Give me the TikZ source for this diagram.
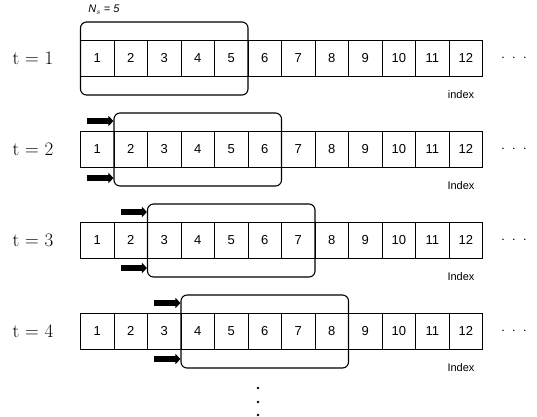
\documentclass[tikz,border=0pt]{standalone}
\usepackage{fontspec}
\setsansfont{Liberation Sans}
\usetikzlibrary{arrows.meta}

\tikzset{
  cellbox/.style={draw, line width=0.8pt, minimum width=33.5pt, minimum height=36pt,
    inner sep=0pt, font=\sffamily\fontsize{13}{13}\selectfont},
  winbox/.style={draw, line width=1.1pt, rounded corners=6pt, minimum width=167.5pt,
    minimum height=73pt, inner sep=0pt},
  steplabel/.style={font=\fontsize{19}{19}\selectfont},
  idxlabel/.style={font=\sffamily\fontsize{11}{11}\selectfont},
  moredots/.style={font=\Large},
  shiftarrow/.style={line width=6pt, -{Triangle[length=5pt, width=10pt]}},
}

\begin{document}
\begin{tikzpicture}[x=1pt, y=-1pt]

    \useasboundingbox (0,0) rectangle (537,416);

    % cells of the four rows
    \foreach \t/\y in {1/58, 2/149, 3/240, 4/331} {
        \foreach \i in {1,...,12}
            \node (c\t-\i) at (80.5+33.5*\i-16.75, \y) [cellbox] {\i};
        \node (T\t) at (33, \y) [steplabel] {t = \t};
        \node (D\t) at (514, \y) [moredots] {$\cdot$\hspace{7pt}$\cdot$\hspace{7pt}$\cdot$};
        \node (I\t) at (461, \y+37) [idxlabel] {\ifnum\t=1 index\else Index\fi};
        \node (W\t) at (80.5+33.5*\t+50.25, \y+0.5) [winbox] {};
    }

    \node (Ns) at (104, 10) [font=\sffamily\fontsize{11}{11}\selectfont] {\textit{N}$_s$ \textit{= 5}};

    % shift arrows
    \coordinate (a2t) at (87, 121);
    \coordinate (a2b) at (87, 178);
    \coordinate (a3t) at (121, 212);
    \coordinate (a3b) at (121, 268);
    \coordinate (a4t) at (154, 303);
    \coordinate (a4b) at (154, 359);
    \draw[shiftarrow] (a2t) -- (W2.west |- a2t);
    \draw[shiftarrow] (a2b) -- (W2.west |- a2b);
    \draw[shiftarrow] (a3t) -- (W3.west |- a3t);
    \draw[shiftarrow] (a3b) -- (W3.west |- a3b);
    \draw[shiftarrow] (a4t) -- (W4.west |- a4t);
    \draw[shiftarrow] (a4b) -- (W4.west |- a4b);

    % more steps follow
    \fill (258, 388) circle (1.4);
    \fill (258, 402) circle (1.4);
    \fill (258, 415) circle (1.4);

\end{tikzpicture}
\end{document}
